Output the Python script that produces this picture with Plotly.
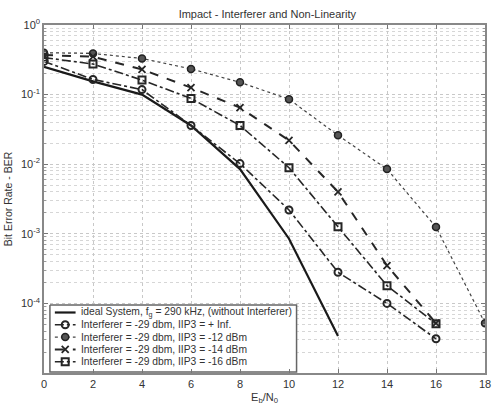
import plotly.graph_objects as go

# Eb/N0 grid (dB)
ebn0 = [0, 2, 4, 6, 8, 10, 12, 14, 16, 18]

# Bit error rates per configuration
ber_ideal = [0.25, 0.155, 0.10, 0.036, 0.0085, 8.5e-4, 3.4e-5]
ber_inf = [0.30, 0.165, 0.118, 0.036, 0.0102, 0.0022, 2.8e-4, 1.0e-4, 3.1e-5]
ber_m12 = [0.40, 0.39, 0.33, 0.234, 0.15, 0.086, 0.026, 0.0085, 0.00125, 5.2e-5]
ber_m14 = [0.37, 0.35, 0.23, 0.126, 0.065, 0.022, 0.004, 3.5e-4, 5.2e-5]
ber_m16 = [0.34, 0.275, 0.162, 0.088, 0.036, 0.0089, 0.00126, 1.8e-4, 5.1e-5]

names = [
    "ideal System, f<sub>g</sub> = 290 kHz, (without Interferer)",
    "Interferer = -29 dbm, IIP3 = + Inf.",
    "Interferer = -29 dbm, IIP3 = -12 dBm",
    "Interferer = -29 dbm, IIP3 = -14 dBm",
    "Interferer = -29 dbm, IIP3 = -16 dBm",
]

y_tick_vals = [1e-5, 1e-4, 1e-3, 1e-2, 1e-1, 1]
y_tick_text = ["", "10<sup>-4</sup>", "10<sup>-3</sup>", "10<sup>-2</sup>",
               "10<sup>-1</sup>", "10<sup>0</sup>"]
x_tick_vals = [0, 2, 4, 6, 8, 10, 12, 14, 16, 18]

ink = "#262626"

# Line / marker styles for each series
styles = [
    dict(mode="lines", line=dict(color="#1a1a1a", width=2.2), marker=None),
    dict(mode="lines+markers", line=dict(color=ink, width=1.6, dash="dashdot"),
         marker=dict(symbol="circle-open", size=7, color=ink, line=dict(width=2))),
    dict(mode="lines+markers", line=dict(color="#444444", width=1.2, dash="dot"),
         marker=dict(symbol="circle", size=7, color="#555555",
                     line=dict(width=1.5, color="#222222"))),
    dict(mode="lines+markers", line=dict(color=ink, width=2, dash="dash"),
         marker=dict(symbol="x-thin-open", size=7, color=ink, line=dict(width=1.8, color=ink))),
    dict(mode="lines+markers", line=dict(color=ink, width=1.6, dash="dashdot"),
         marker=dict(symbol="square-open", size=7, color=ink, line=dict(width=2))),
]
series = [ber_ideal, ber_inf, ber_m12, ber_m14, ber_m16]

fig = go.Figure()
for name, ys, st in zip(names, series, styles):
    kw = dict(mode=st["mode"], line=st["line"])
    if st["marker"]:
        kw["marker"] = st["marker"]
    fig.add_trace(go.Scatter(x=ebn0[:len(ys)], y=ys, name=name, showlegend=False, **kw))

# Compact legend box drawn on an overlay axis measured in plot pixels
L, R, T, B = 44, 491, 25, 373
box_x0, box_x1, box_y0, box_y1 = 50, 300, 305, 372
fig.add_trace(go.Scatter(
    x=[box_x0, box_x1, box_x1, box_x0, box_x0],
    y=[box_y0, box_y0, box_y1, box_y1, box_y0],
    fill="toself", fillcolor="white", mode="lines",
    line=dict(color="#666666", width=1.5), xaxis="x2", yaxis="y2",
    showlegend=False, hoverinfo="skip"))

row_y = [312.5, 324.8, 337.1, 349.4, 361.7]
for i, (name, st) in enumerate(zip(names, styles)):
    yy = row_y[i]
    fig.add_trace(go.Scatter(
        x=[55, 76], y=[yy, yy], mode="lines", line=st["line"],
        xaxis="x2", yaxis="y2", showlegend=False, hoverinfo="skip"))
    if st["marker"]:
        fig.add_trace(go.Scatter(
            x=[65.5], y=[yy], mode="markers", marker=st["marker"],
            xaxis="x2", yaxis="y2", showlegend=False, hoverinfo="skip"))
    fig.add_annotation(x=79, y=yy, xref="x2", yref="y2", text=name,
                       xanchor="left", yanchor="middle", showarrow=False,
                       font=dict(size=10.3, color="#333333"))

minor_vals = [m * 10 ** e for e in range(-5, 0) for m in range(2, 10)]

fig.update_layout(
    width=495, height=407,
    margin=dict(l=L, r=495 - R, t=T, b=407 - B),
    paper_bgcolor="white", plot_bgcolor="white",
    font=dict(family="Liberation Sans, Arial, sans-serif", size=11, color="#333333"),
    title=dict(text="Impact - Interferer and Non-Linearity", x=0.54, xanchor="center",
               y=1 - 14 / 407, yanchor="middle", font=dict(size=11, color="#333333")),
    showlegend=False,
    xaxis=dict(range=[0, 18], tickvals=x_tick_vals, ticks="inside", ticklen=4,
               tickcolor="#777777", showline=True, linecolor="#888888", linewidth=1.5,
               mirror="ticks", showgrid=True, gridcolor="#c8c8c8", griddash="dot",
               zeroline=False, ticklabeloverflow="allow",
               title=dict(text="E<sub>b</sub>/N<sub>0</sub>", standoff=4,
                          font=dict(size=11))),
    yaxis=dict(type="log", range=[-5, 0], tickvals=y_tick_vals, ticktext=y_tick_text,
               ticks="inside", ticklen=4, tickcolor="#777777", showline=True,
               linecolor="#888888", linewidth=1.5, mirror="ticks", showgrid=True,
               gridcolor="#c8c8c8", griddash="dot", zeroline=False,
               minor=dict(tickvals=minor_vals, showgrid=True, gridcolor="#d6d6d6",
                          griddash="dot", ticks="inside", ticklen=2,
                          tickcolor="#999999"),
               title=dict(text="Bit Error Rate - BER", standoff=6, font=dict(size=10.5))),
    xaxis2=dict(overlaying="x", anchor="y2", range=[L, R], visible=False,
                showgrid=False, zeroline=False, fixedrange=True),
    yaxis2=dict(overlaying="y", anchor="x2", range=[B, T], visible=False,
                showgrid=False, zeroline=False, fixedrange=True),
)

fig.write_html("out.html")
